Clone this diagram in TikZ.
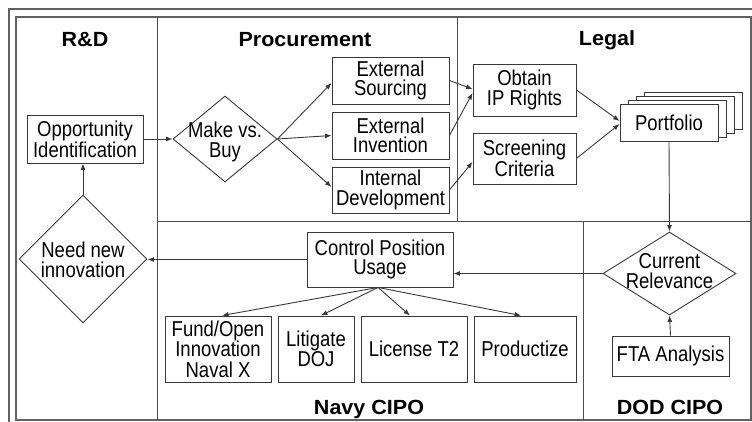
\documentclass[tikz,border=0pt]{standalone}
\usepackage{fontspec}
\setmainfont{Liberation Sans}
\newfontfamily\boxfont{Liberation Sans}[FakeStretch=0.86]
\newfontfamily\lanefont{Liberation Sans}[FakeStretch=1.05]
\usetikzlibrary{shapes.geometric,arrows.meta}

\begin{document}
\begin{tikzpicture}[x=1pt,y=-1pt,
  ink/.style={draw=black!78, line width=0.9pt},
  flow/.style={ink, -{Latex[length=6.5pt,width=5pt]}},
  box/.style={ink, fill=white, inner sep=0pt, align=center,
    font=\boxfont\fontsize{21.5}{19.5}\selectfont},
  dia/.style={diamond, ink, fill=white, inner sep=0pt},
  txt/.style={inner sep=0pt, align=center,
    font=\boxfont\fontsize{21.5}{19.5}\selectfont},
  lane/.style={anchor=base, inner sep=0pt,
    font=\lanefont\bfseries\fontsize{20.5}{24}\selectfont},
  frame/.style={draw=black!62, line width=1.2pt},
  divider/.style={draw=black!70, line width=0.9pt}]

\useasboundingbox (0,0) rectangle (752,422);
\clip (0,0) rectangle (752,422);

% double outer frame
\draw[frame] (9,9) rectangle (770,440);
\draw[frame] (16,17) rectangle (751,420);

% swimlane dividers
\draw[divider] (157,17) -- (157,420);
\draw[divider] (457,17) -- (457,221);
\draw[divider] (157,221) -- (751,221);
\draw[divider] (583,221) -- (583,420);

% lane titles
\node[lane] (tRD)   at (85,47)   {R\&D};
\node[lane] (tPro)  at (305,47)  {Procurement};
\node[lane] (tLeg)  at (607,46)  {Legal};
\node[lane] (tNavy) at (369,414) {Navy CIPO};
\node[lane] (tDod)  at (670,414) {DOD CIPO};

% R&D
\node[box, minimum width=116pt, minimum height=48pt,
  font=\boxfont\fontsize{21.5}{18}\selectfont] (opp) at (85,139)
  {Opportunity\\Identification};
\node[dia, minimum width=128pt, minimum height=128pt] (need) at (83,259) {};
\node[txt] (needT) at (83,260) {Need new\\innovation};

% Procurement
\node[dia, minimum width=104pt, minimum height=86pt] (mvb) at (225,139) {};
\node[txt] (mvbT) at (225,142) {Make vs.\\Buy};
\node[box, minimum width=117pt, minimum height=47pt] (es) at (390.5,80.5) {External\\Sourcing};
\node[box, minimum width=117pt, minimum height=47pt] (ei) at (390.5,135.5) {External\\Invention};
\node[box, minimum width=117pt, minimum height=46pt] (id) at (390.5,190) {Internal\\Development};

% Legal
\node[box, minimum width=103pt, minimum height=52pt] (oip) at (524.5,90) {Obtain\\IP Rights};
\node[box, minimum width=103pt, minimum height=51pt] (sc) at (524.5,158.5) {Screening\\Criteria};
\node[box, minimum width=98pt, minimum height=37pt] (pf3) at (693,111) {};
\node[box, minimum width=98pt, minimum height=37pt] (pf2) at (685,115) {};
\node[box, minimum width=98pt, minimum height=37pt] (pf1) at (677,119) {};
\node[box, minimum width=98pt, minimum height=37pt] (pf) at (669,122.5) {Portfolio};

% DOD CIPO
\node[dia, minimum width=133pt, minimum height=83pt] (cr) at (669.5,273.5) {};
\node[txt] (crT) at (669.5,271) {Current\\Relevance};
\node[box, minimum width=117pt, minimum height=40pt] (fta) at (670.5,356) {FTA Analysis};

% Navy CIPO
\node[box, minimum width=146pt, minimum height=55pt] (cpu) at (380,259.5) {Control Position\\Usage};
\node[box, minimum width=106pt, minimum height=66pt,
  font=\boxfont\fontsize{21.5}{20.5}\selectfont] (fund) at (218,349) {Fund/Open\\Innovation\\Naval X};
\node[box, minimum width=76pt, minimum height=66pt] (lit) at (316,349) {Litigate\\DOJ};
\node[box, minimum width=106pt, minimum height=66pt] (lic) at (414,349) {License T2};
\node[box, minimum width=102pt, minimum height=66pt] (prod) at (525,349) {Productize};

% flow
\draw[flow] (opp.east) -- (mvb.west);
\draw[flow] (mvb.east) -- ([yshift=-2.5pt]es.west);
\draw[flow] (mvb.east) -- (ei.west);
\draw[flow] (mvb.east) -- ([yshift=3pt]id.west);
\draw[flow] (es.east) -- ([yshift=1pt]oip.west);
\draw[flow] (ei.east) -- ([yshift=-3pt]oip.west);
\draw[flow] (id.east) -- ([yshift=-3.5pt]sc.west);
\draw[flow] (oip.east) -- ([yshift=1.5pt]pf.west);
\draw[flow] (sc.east) -- ([yshift=-1.5pt]pf.west);
\draw[flow] (pf.south) -- (cr.north);
\draw[flow] (fta.north) -- (cr.south);
\draw[flow] (cr.west) -- (cr.west -| cpu.east);
\draw[flow] (cpu.west) -- (cpu.west -| need.east);
\draw[flow] (need.north) -- (need.north |- opp.south);
\draw[flow] ([xshift=-2pt]cpu.south) -- ([xshift=4pt]fund.north);
\draw[flow] ([xshift=-2pt]cpu.south) -- ([xshift=5pt]lit.north);
\draw[flow] ([xshift=-2pt]cpu.south) -- ([xshift=-4pt]lic.north);
\draw[flow] ([xshift=-2pt]cpu.south) -- ([xshift=-4pt]prod.north);
\end{tikzpicture}
\end{document}
